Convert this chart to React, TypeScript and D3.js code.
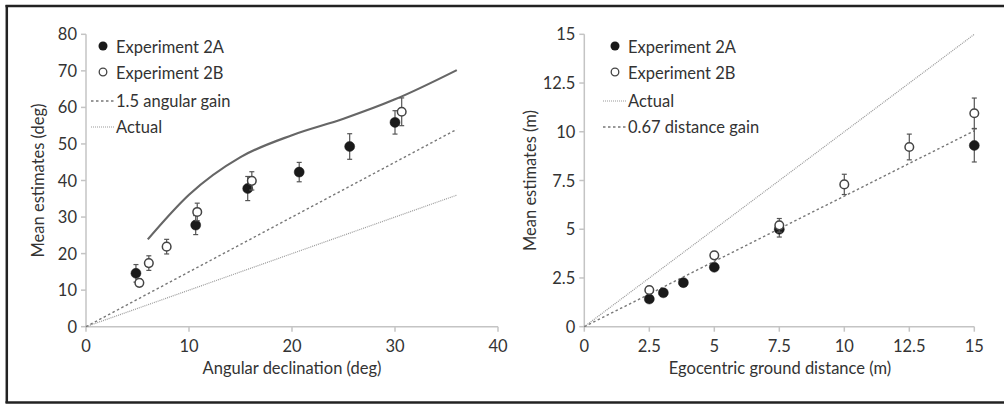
import React from "react";
import * as d3 from "d3";

// ---- Left panel data ----
const leftA_x = [4.85, 10.65, 15.7, 20.7, 25.6, 30.0];
const leftA_y = [14.6, 27.8, 37.8, 42.3, 49.3, 55.9];
const leftA_err = [2.4, 2.6, 3.3, 2.65, 3.5, 3.2];

const leftB_x = [5.18, 6.1, 7.83, 10.8, 16.1, 30.65];
const leftB_y = [12.0, 17.4, 21.9, 31.4, 39.9, 58.8];
const leftB_err = [1.0, 2.0, 2.0, 2.4, 2.5, 3.8];

const curve_x = [6, 10, 15, 20, 25, 30, 36];
const curve_y = [23.9, 36.1, 46.4, 52.4, 56.9, 62.2, 70.2];

const leftLineEnd = 36;
const leftGain = 1.5;

const leftXTicks = [0, 10, 20, 30, 40];
const leftYTicks = [0, 10, 20, 30, 40, 50, 60, 70, 80];

// ---- Right panel data ----
const rightA_x = [2.5, 3.04, 3.81, 5.0, 7.5, 15];
const rightA_y = [1.42, 1.74, 2.26, 3.05, 5.0, 9.3];
const rightA_err = [0, 0, 0, 0, 0.4, 0.85];

const rightB_x = [2.5, 5, 7.5, 10, 12.5, 15];
const rightB_y = [1.88, 3.66, 5.2, 7.3, 9.22, 10.95];
const rightB_err = [0, 0, 0.35, 0.52, 0.66, 0.78];

const rightLineEnd = 15;
const rightGain = 0.67;

const rightXTicks = [0, 2.5, 5, 7.5, 10, 12.5, 15];
const rightYTicks = [0, 2.5, 5, 7.5, 10, 12.5, 15];

const FONT = "Lato, 'Open Sans', sans-serif";
const AXIS = "#c4c4c4";
const TEXT = "#333";
const MARK = "#1a1a1a";
const LINE = "#777";
const FS_TICK = 16.5;
const FS_LEG = 16.5;
const FS_TITLE = 16.5;

type Pt = { x: number; y: number; e: number };
const zip = (xs: number[], ys: number[], es: number[]): Pt[] =>
  xs.map((x, i) => ({ x, y: ys[i], e: es[i] }));

function Axes({ x, y, xTicks, yTicks, fmt }: any) {
  const [x0, x1] = x.range();
  const [y0, y1] = y.range();
  return (
    <g>
      <line x1={x0} x2={x1} y1={y0} y2={y0} stroke={AXIS} strokeWidth={1.5} />
      <line x1={x0} x2={x0} y1={y0} y2={y1} stroke={AXIS} strokeWidth={1.5} />
      {xTicks.map((t: number) => (
        <g key={"x" + t}>
          <line x1={x(t)} x2={x(t)} y1={y0} y2={y0 + 5} stroke={AXIS} strokeWidth={1.5} />
          <text x={x(t)} y={y0 + 25} textAnchor="middle" fontSize={FS_TICK} fill={TEXT} fontFamily={FONT}>
            {fmt(t)}
          </text>
        </g>
      ))}
      {yTicks.map((t: number) => (
        <g key={"y" + t}>
          <line x1={x0 - 5} x2={x0} y1={y(t)} y2={y(t)} stroke={AXIS} strokeWidth={1.5} />
          <text x={x0 - 9} y={y(t) + 6} textAnchor="end" fontSize={FS_TICK} fill={TEXT} fontFamily={FONT}>
            {fmt(t)}
          </text>
        </g>
      ))}
    </g>
  );
}

function Points({ data, x, y, open }: { data: Pt[]; x: any; y: any; open: boolean }) {
  return (
    <g>
      {data.map((d, i) => (
        <g key={i}>
          {d.e > 0 && (
            <g stroke="#555" strokeWidth={1.2}>
              <line x1={x(d.x)} x2={x(d.x)} y1={y(d.y - d.e)} y2={y(d.y + d.e)} />
              <line x1={x(d.x) - 2.5} x2={x(d.x) + 2.5} y1={y(d.y - d.e)} y2={y(d.y - d.e)} />
              <line x1={x(d.x) - 2.5} x2={x(d.x) + 2.5} y1={y(d.y + d.e)} y2={y(d.y + d.e)} />
            </g>
          )}
          <circle
            cx={x(d.x)}
            cy={y(d.y)}
            r={open ? 4.3 : 5}
            fill={open ? "#fff" : MARK}
            stroke={open ? "#444" : MARK}
            strokeWidth={open ? 1.5 : 0.5}
          />
        </g>
      ))}
    </g>
  );
}

function Legend({ x0, items }: { x0: number; items: any[] }) {
  const ys = [47, 73, 101, 127];
  return (
    <g fontFamily={FONT} fontSize={FS_LEG} fill={TEXT}>
      {items.map((it, i) => (
        <g key={i}>
          {it.kind === "filled" && <circle cx={x0 + 12} cy={ys[i] - 1} r={4.5} fill={MARK} />}
          {it.kind === "open" && (
            <circle cx={x0 + 12} cy={ys[i] - 1} r={3.8} fill="#fff" stroke="#444" strokeWidth={1.3} />
          )}
          {it.kind === "dash" && (
            <line x1={x0} x2={x0 + 24} y1={ys[i]} y2={ys[i]} stroke={LINE} strokeWidth={1.4} strokeDasharray="2.5,2.5" />
          )}
          {it.kind === "dot" && (
            <line x1={x0} x2={x0 + 24} y1={ys[i]} y2={ys[i]} stroke="#999" strokeWidth={1.2} strokeDasharray="1,1" />
          )}
          <text x={x0 + 25} y={ys[i] + 6}>
            {it.label}
          </text>
        </g>
      ))}
    </g>
  );
}

export default function App() {
  const W = 1007;
  const H = 404;

  const lx = d3.scaleLinear().domain([0, 40]).range([86, 498]);
  const ly = d3.scaleLinear().domain([0, 80]).range([326.7, 34.3]);
  const rx = d3.scaleLinear().domain([0, 15]).range([584.3, 974.3]);
  const ry = d3.scaleLinear().domain([0, 15]).range([326.7, 34.3]);

  const curvePath = d3
    .line<number>()
    .x((_, i) => lx(curve_x[i]))
    .y((d) => ly(d))
    .curve(d3.curveMonotoneX)(curve_y) as string;

  const fmtL = (t: number) => String(t);
  const fmtR = (t: number) => String(t);

  return (
    <svg width={W} height={H} style={{ position: "absolute", left: 0, top: 0 }}>
      <rect x={0} y={0} width={W} height={H} fill="#fff" />
      {/* frame */}
      <g stroke="#222" strokeWidth={2.5} fill="none">
        <line x1={5.5} x2={1004} y1={6} y2={6} />
        <line x1={6.8} x2={6.8} y1={5} y2={403} />
        <line x1={5.5} x2={1004} y1={402.5} y2={402.5} />
      </g>

      {/* Left panel */}
      <Axes x={lx} y={ly} xTicks={leftXTicks} yTicks={leftYTicks} fmt={fmtL} />
      <line x1={lx(0)} y1={ly(0)} x2={lx(leftLineEnd)} y2={ly(leftLineEnd)} stroke="#999" strokeWidth={1.2} strokeDasharray="1,1" />
      <line x1={lx(0)} y1={ly(0)} x2={lx(leftLineEnd)} y2={ly(leftLineEnd * leftGain)} stroke={LINE} strokeWidth={1.4} strokeDasharray="2.5,2.5" />
      <path d={curvePath} fill="none" stroke="#666" strokeWidth={2.2} />
      <Points data={zip(leftA_x, leftA_y, leftA_err)} x={lx} y={ly} open={false} />
      <Points data={zip(leftB_x, leftB_y, leftB_err)} x={lx} y={ly} open={true} />
      <Legend
        x0={91}
        items={[
          { kind: "filled", label: "Experiment 2A" },
          { kind: "open", label: "Experiment 2B" },
          { kind: "dash", label: "1.5 angular gain" },
          { kind: "dot", label: "Actual" },
        ]}
      />
      <text x={292} y={374} textAnchor="middle" fontSize={FS_TITLE} fill={TEXT} fontFamily={FONT}>
        Angular declination (deg)
      </text>
      <text
        transform={`translate(44,${ly(40)}) rotate(-90)`}
        textAnchor="middle"
        fontSize={FS_TITLE}
        fill={TEXT}
        fontFamily={FONT}
      >
        Mean estimates (deg)
      </text>

      {/* Right panel */}
      <Axes x={rx} y={ry} xTicks={rightXTicks} yTicks={rightYTicks} fmt={fmtR} />
      <line x1={rx(0)} y1={ry(0)} x2={rx(rightLineEnd)} y2={ry(rightLineEnd)} stroke="#999" strokeWidth={1.2} strokeDasharray="1,1" />
      <line x1={rx(0)} y1={ry(0)} x2={rx(rightLineEnd)} y2={ry(rightLineEnd * rightGain)} stroke={LINE} strokeWidth={1.4} strokeDasharray="2.5,2.5" />
      <Points data={zip(rightA_x, rightA_y, rightA_err)} x={rx} y={ry} open={false} />
      <Points data={zip(rightB_x, rightB_y, rightB_err)} x={rx} y={ry} open={true} />
      <Legend
        x0={603}
        items={[
          { kind: "filled", label: "Experiment 2A" },
          { kind: "open", label: "Experiment 2B" },
          { kind: "dot", label: "Actual" },
          { kind: "dash", label: "0.67 distance gain" },
        ]}
      />
      <text x={780} y={374} textAnchor="middle" fontSize={FS_TITLE} fill={TEXT} fontFamily={FONT}>
        Egocentric ground distance (m)
      </text>
      <text
        transform={`translate(536,${ry(7.5)}) rotate(-90)`}
        textAnchor="middle"
        fontSize={FS_TITLE}
        fill={TEXT}
        fontFamily={FONT}
      >
        Mean estimates (m)
      </text>
    </svg>
  );
}
